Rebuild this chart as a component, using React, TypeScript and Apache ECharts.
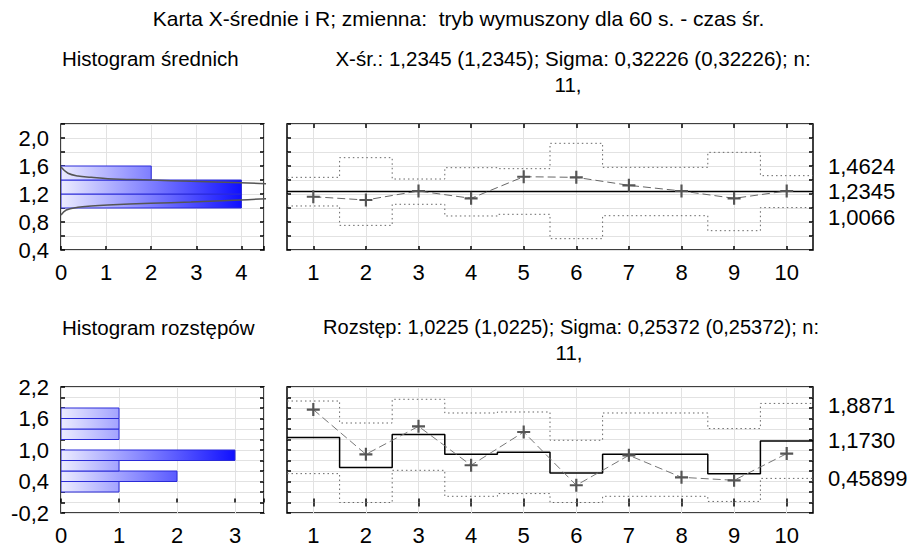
import React, { useEffect, useRef } from "react";
import * as echarts from "echarts";

// ---- data ----
const sampleNos = [1, 2, 3, 4, 5, 6, 7, 8, 9, 10];
const means = [1.161, 1.114, 1.243, 1.138, 1.447, 1.438, 1.324, 1.243, 1.138, 1.243];
const meanUCL = [1.438, 1.719, 1.414, 1.576, 1.562, 1.924, 1.581, 1.581, 1.795, 1.462];
const meanLCL = [1.029, 0.752, 1.053, 0.886, 0.91, 0.562, 0.89, 0.89, 0.676, 1.006];
const meanCenter = 1.2345;

const ranges = [1.77, 0.918, 1.451, 0.709, 1.343, 0.328, 0.899, 0.48, 0.423, 0.931];
const rangeCenter = [1.236, 0.665, 1.293, 0.918, 0.956, 0.56, 0.918, 0.918, 0.55, 1.173];
const rangeUCL = [1.933, 1.514, 1.966, 1.705, 1.724, 1.185, 1.705, 1.705, 1.408, 1.887];
const rangeLCL = [0.55, 0.0, 0.613, 0.118, 0.17, 0.0, 0.118, 0.118, 0.02, 0.459];

// histogram bins: [low, high, count]
const meanBinsLow = [1.0, 1.2, 1.4];
const meanBinsHigh = [1.2, 1.4, 1.6];
const meanBinCounts = [4, 4, 2];
const rangeBinsLow = [0.2, 0.4, 0.6, 0.8, 1.2, 1.4, 1.6];
const rangeBinsHigh = [0.4, 0.6, 0.8, 1.0, 1.4, 1.6, 1.8];
const rangeBinCounts = [1, 2, 1, 3, 1, 1, 1];

// fitted normal curve of the means histogram, read as [count, value]
const curveUpper = [[0.0, 1.585], [0.155, 1.496], [0.375, 1.457], [0.67, 1.439], [1.04, 1.419], [1.99, 1.4], [2.88, 1.381], [3.98, 1.362], [4.6, 1.345]];
const curveLower = [[0.0, 0.9], [0.117, 0.971], [0.375, 1.01], [0.67, 1.029], [1.04, 1.043], [1.99, 1.067], [2.88, 1.086], [3.98, 1.114], [4.6, 1.135]];

const meanLimitLabels = ["1,4624", "1,2345", "1,0066"];
const rangeLimitLabels = ["1,8871", "1,1730", "0,45899"];

const titleText = "Karta X-średnie i R; zmienna:  tryb wymuszony dla 60 s. - czas śr.";
const meanHistTitle = "Histogram średnich";
const meanInfo1 = "X-śr.: 1,2345 (1,2345); Sigma: 0,32226 (0,32226); n:";
const meanInfo2 = "11,";
const rangeHistTitle = "Histogram rozstępów";
const rangeInfo1 = "Rozstęp: 1,0225 (1,0225); Sigma: 0,25372 (0,25372); n:";
const rangeInfo2 = "11,";

const FONT = "'Liberation Sans', Arial, Helvetica, sans-serif";
const PLUS = "path://M5,0H7V5H12V7H7V12H5V7H0V5H5Z";
const NUM_SIZE = 22;

const fmt = (v: number) => v.toFixed(1).replace(".", ",");
const stepPts = (arr: number[]) => arr.flatMap((v, i) => [[i + 0.5, v], [i + 1.5, v]]);

function histRender(maxCount: number) {
  return (params: any, api: any) => {
    const lo = api.value(0);
    const hi = api.value(1);
    const c = api.value(2);
    const p0 = api.coord([0, hi]);
    const p1 = api.coord([c, lo]);
    const gx1 = api.coord([maxCount, lo])[0];
    return {
      type: "rect",
      shape: { x: p0[0], y: p0[1], width: p1[0] - p0[0], height: p1[1] - p0[1] },
      style: {
        fill: new echarts.graphic.LinearGradient(
          p0[0], 0, gx1, 0,
          [
            { offset: 0, color: "#ececff" },
            { offset: 1, color: "#1010ff" },
          ],
          true
        ),
        stroke: "#2a2ad8",
        lineWidth: 1,
      },
    };
  };
}

export default function App() {
  const ref = useRef<HTMLDivElement>(null);
  useEffect(() => {
    const chart = echarts.init(ref.current!, null, { renderer: "svg" });

    const gridBase = { show: true, borderColor: "#000", borderWidth: 1.5, backgroundColor: "transparent", containLabel: false, outerBoundsMode: "none" };
    const tick = { show: true, inside: true, length: 4, lineStyle: { color: "#000", width: 1.5 } };
    const sampleTick = { ...tick, customValues: sampleNos };
    const split = { show: true, lineStyle: { color: "#e2e2e2", width: 1 } };
    const labelStyle = { color: "#000", fontSize: NUM_SIZE, fontFamily: FONT };

    const xIntLabel = (v: number) => (Math.abs(v - Math.round(v)) < 1e-6 ? String(Math.round(v)) : "");

    const sampleAxis = (grid: number) => ({
      type: "value", gridIndex: grid, min: 0.5, max: 10.5, axisLine: { show: false }, axisTick: sampleTick, splitLine: split,
      axisLabel: { ...labelStyle, margin: 11, customValues: sampleNos, formatter: xIntLabel },
    });
    const sampleAxisTop = (grid: number) => ({
      type: "value", gridIndex: grid, position: "top", min: 0.5, max: 10.5, axisLine: { show: false }, axisTick: sampleTick, splitLine: { show: false }, axisLabel: { show: false },
    });

    const option: any = {
      animation: false,
      grid: [
        { ...gridBase, left: 61, top: 124, width: 203, height: 126 },
        { ...gridBase, left: 287, top: 124, width: 526, height: 126 },
        { ...gridBase, left: 61, top: 387, width: 203, height: 126 },
        { ...gridBase, left: 287, top: 387, width: 526, height: 126 },
      ],
      xAxis: [
        { type: "value", gridIndex: 0, min: 0, max: 4.5, interval: 1, axisLine: { show: false }, axisTick: tick, splitLine: split, axisLabel: { ...labelStyle, margin: 11, formatter: xIntLabel } },
        sampleAxis(1),
        sampleAxisTop(1),
        { type: "value", gridIndex: 2, min: 0, max: 3.5, interval: 1, axisLine: { show: false }, axisTick: tick, splitLine: split, axisLabel: { ...labelStyle, margin: 11, formatter: xIntLabel } },
        sampleAxis(3),
        sampleAxisTop(3),
      ],
      yAxis: [
        {
          type: "value", gridIndex: 0, min: 0.4, max: 2.2, interval: 0.2, axisLine: { show: false }, axisTick: tick, splitLine: split,
          axisLabel: { ...labelStyle, margin: 12, formatter: (v: number) => { const k = Math.round((v - 0.4) / 0.2); return k % 2 === 0 && k <= 8 ? fmt(v) : ""; } },
        },
        { type: "value", gridIndex: 0, position: "right", min: 0.4, max: 2.2, interval: 0.2, axisLine: { show: false }, axisTick: tick, splitLine: { show: false }, axisLabel: { show: false } },
        { type: "value", gridIndex: 1, min: 0.4, max: 2.2, interval: 0.2, axisLine: { show: false }, axisTick: tick, splitLine: split, axisLabel: { show: false } },
        { type: "value", gridIndex: 1, position: "right", min: 0.4, max: 2.2, interval: 0.2, axisLine: { show: false }, axisTick: tick, splitLine: { show: false }, axisLabel: { show: false } },
        {
          type: "value", gridIndex: 2, min: -0.2, max: 2.2, interval: 0.2, axisLine: { show: false }, axisTick: tick, splitLine: split,
          axisLabel: { ...labelStyle, margin: 12, formatter: (v: number) => { const k = Math.round((v + 0.2) / 0.2); return k % 3 === 0 ? fmt(v) : ""; } },
        },
        { type: "value", gridIndex: 2, position: "right", min: -0.2, max: 2.2, interval: 0.2, axisLine: { show: false }, axisTick: tick, splitLine: { show: false }, axisLabel: { show: false } },
        { type: "value", gridIndex: 3, min: -0.2, max: 2.2, interval: 0.2, axisLine: { show: false }, axisTick: tick, splitLine: split, axisLabel: { show: false } },
        { type: "value", gridIndex: 3, position: "right", min: -0.2, max: 2.2, interval: 0.2, axisLine: { show: false }, axisTick: tick, splitLine: { show: false }, axisLabel: { show: false } },
      ],
      series: [
        // means histogram
        {
          type: "custom", xAxisIndex: 0, yAxisIndex: 0,
          data: meanBinCounts.map((c, i) => [meanBinsLow[i], meanBinsHigh[i], c]),
          encode: { x: 2, y: [0, 1] },
          renderItem: histRender(Math.max(...meanBinCounts)),
          clip: true,
        },
        { type: "line", xAxisIndex: 0, yAxisIndex: 0, data: curveUpper, smooth: 0.4, showSymbol: false, symbol: "none", lineStyle: { color: "#555", width: 1.5 }, clip: true, z: 5 },
        { type: "line", xAxisIndex: 0, yAxisIndex: 0, data: curveLower, smooth: 0.4, showSymbol: false, symbol: "none", lineStyle: { color: "#555", width: 1.5 }, clip: true, z: 5 },
        // X-bar chart
        { type: "line", xAxisIndex: 1, yAxisIndex: 2, data: stepPts(meanUCL), symbol: "none", lineStyle: { color: "#666", width: 1, type: [1.5, 3] } },
        { type: "line", xAxisIndex: 1, yAxisIndex: 2, data: stepPts(meanLCL), symbol: "none", lineStyle: { color: "#666", width: 1, type: [1.5, 3] } },
        { type: "line", xAxisIndex: 1, yAxisIndex: 2, data: [[0.5, meanCenter], [10.5, meanCenter]], symbol: "none", lineStyle: { color: "#000", width: 1.5 } },
        {
          type: "line", xAxisIndex: 1, yAxisIndex: 2, data: means.map((v, i) => [sampleNos[i], v]),
          symbol: PLUS, symbolSize: 13, itemStyle: { color: "#555" }, lineStyle: { color: "#666", width: 1, type: [8, 4] }, z: 5,
        },
        // range histogram
        {
          type: "custom", xAxisIndex: 3, yAxisIndex: 4,
          data: rangeBinCounts.map((c, i) => [rangeBinsLow[i], rangeBinsHigh[i], c]),
          encode: { x: 2, y: [0, 1] },
          renderItem: histRender(Math.max(...rangeBinCounts)),
          clip: true,
        },
        // R chart
        { type: "line", xAxisIndex: 4, yAxisIndex: 6, data: stepPts(rangeUCL), symbol: "none", lineStyle: { color: "#666", width: 1, type: [1.5, 3] } },
        { type: "line", xAxisIndex: 4, yAxisIndex: 6, data: stepPts(rangeLCL), symbol: "none", lineStyle: { color: "#666", width: 1, type: [1.5, 3] } },
        { type: "line", xAxisIndex: 4, yAxisIndex: 6, data: stepPts(rangeCenter), symbol: "none", lineStyle: { color: "#000", width: 1.5 } },
        {
          type: "line", xAxisIndex: 4, yAxisIndex: 6, data: ranges.map((v, i) => [sampleNos[i], v]),
          symbol: PLUS, symbolSize: 13, itemStyle: { color: "#555" }, lineStyle: { color: "#777", width: 1, type: [8, 4] }, z: 5,
        },
      ],
      graphic: [
        { type: "text", left: "center", top: 8, style: { text: titleText, fontSize: 21, fontFamily: FONT, fill: "#000" } },
        { type: "text", x: 62, y: 58, style: { text: meanHistTitle, fontSize: 20.5, fontFamily: FONT, fill: "#000", verticalAlign: "middle" } },
        { type: "text", x: 573, y: 58, style: { text: meanInfo1, fontSize: 20.5, fontFamily: FONT, fill: "#000", align: "center", verticalAlign: "middle" } },
        { type: "text", x: 568, y: 84, style: { text: meanInfo2, fontSize: 20.5, fontFamily: FONT, fill: "#000", align: "center", verticalAlign: "middle" } },
        { type: "text", x: 62, y: 327, style: { text: rangeHistTitle, fontSize: 20.5, fontFamily: FONT, fill: "#000", verticalAlign: "middle" } },
        { type: "text", x: 571, y: 327, style: { text: rangeInfo1, fontSize: 20, fontFamily: FONT, fill: "#000", align: "center", verticalAlign: "middle" } },
        { type: "text", x: 569, y: 352, style: { text: rangeInfo2, fontSize: 20.5, fontFamily: FONT, fill: "#000", align: "center", verticalAlign: "middle" } },
        ...meanLimitLabels.map((t, i) => ({ type: "text", x: 828, y: [166, 191.7, 217][i], style: { text: t, fontSize: NUM_SIZE, fontFamily: FONT, fill: "#000", verticalAlign: "middle" } })),
        ...rangeLimitLabels.map((t, i) => ({ type: "text", x: 828, y: [405, 440, 478.3][i], style: { text: t, fontSize: NUM_SIZE, fontFamily: FONT, fill: "#000", verticalAlign: "middle" } })),
      ],
    };
    chart.setOption(option);
    return () => chart.dispose();
  }, []);
  return <div ref={ref} style={{ position: "fixed", left: 0, top: 0, width: 917, height: 548, background: "#fff" }} />;
}
